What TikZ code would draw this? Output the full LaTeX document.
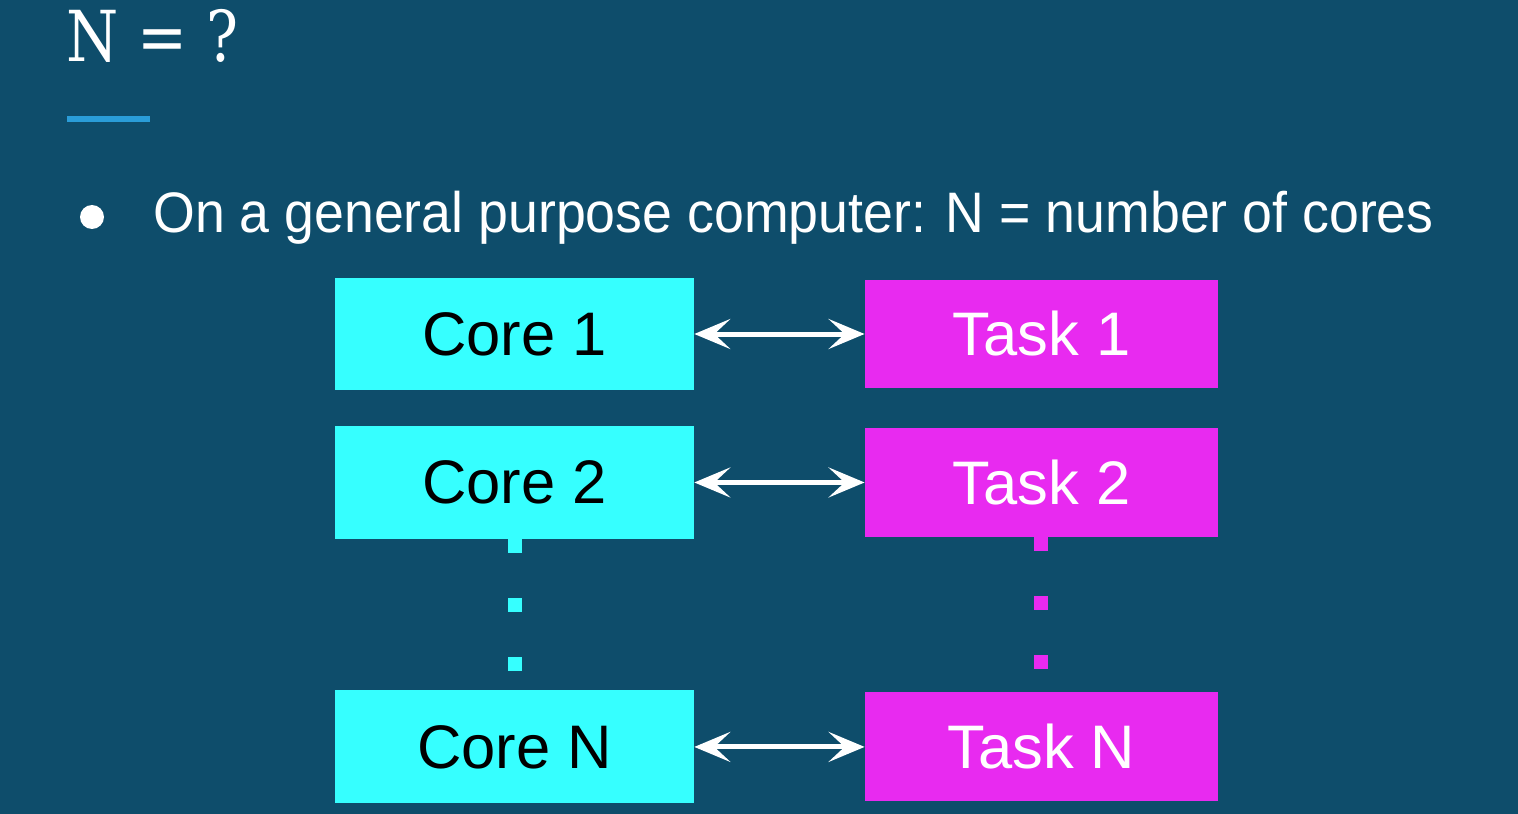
\documentclass[tikz,border=0pt]{standalone}
\usepackage{fontspec}
\setmainfont{Liberation Sans}
\newfontfamily\slabfont[FakeStretch=0.85]{DejaVu Serif}
\newfontfamily\bodyfont[FakeStretch=0.94]{Liberation Sans}
\usetikzlibrary{positioning,arrows.meta}

\definecolor{slidebg}{RGB}{14,77,107}
\definecolor{corecyan}{RGB}{54,255,255}
\definecolor{taskpink}{RGB}{232,42,240}
\definecolor{ruleblue}{RGB}{42,157,216}

\tikzset{
  corebox/.style={rectangle, fill=corecyan, minimum width=7.18cm, minimum height=2.26cm,
    inner sep=0pt, text=black, font=\fontsize{35}{42}\selectfont},
  taskbox/.style={rectangle, fill=taskpink, minimum width=7.06cm, minimum height=2.18cm,
    inner sep=0pt, text=white, font=\fontsize{35}{42}\selectfont},
  link/.style={white, line width=0.1cm,
    {Stealth[length=0.72cm,width=0.6cm,inset=0.32cm]}-{Stealth[length=0.72cm,width=0.6cm,inset=0.32cm]}},
  vdots/.style={line width=0.28cm, dash pattern=on 0.28cm off 0.9cm}
}

\begin{document}
\begin{tikzpicture}[x=0.02cm,y=-0.02cm,on grid,node distance=10.54cm]
\useasboundingbox (0,0) rectangle (1518,814);
\fill[slidebg] (0,0) rectangle (1518,814);

% heading
\node[anchor=base west, inner sep=0pt, text=white,
      font=\slabfont\fontsize{40}{48}\selectfont] (title) at (66,62) {N = ?};
\draw[ruleblue, line width=0.12cm] (67,119) -- (150,119);

% bullet
\fill[white] (92,217) circle (12);
\node[anchor=base west, inner sep=0pt, text=white,
      font=\bodyfont\fontsize{32.5}{39}\selectfont] (point) at (153,233)
      {On a general purpose computer: N = number of cores};

% cores
\node[corebox] (c_1) at (514.5,334) {Core 1};
\node[corebox] (c_2) [below=2.97cm of c_1] {Core 2};
\node[corebox] (c_n) [below=5.29cm of c_2] {Core N};

% tasks
\node[taskbox] (t_1) [right=of c_1] {Task 1};
\node[taskbox] (t_2) [right=of c_2] {Task 2};
\node[taskbox] (t_n) [right=of c_n] {Task N};

\path[link]
(c_1) edge (t_1)
(c_2) edge (t_2)
(c_n) edge (t_n)
; %end path

\draw[vdots, corecyan] (c_2.south) -- (c_n.north);
\draw[vdots, taskpink] (t_2.south) -- (t_n.north);
\end{tikzpicture}
\end{document}
